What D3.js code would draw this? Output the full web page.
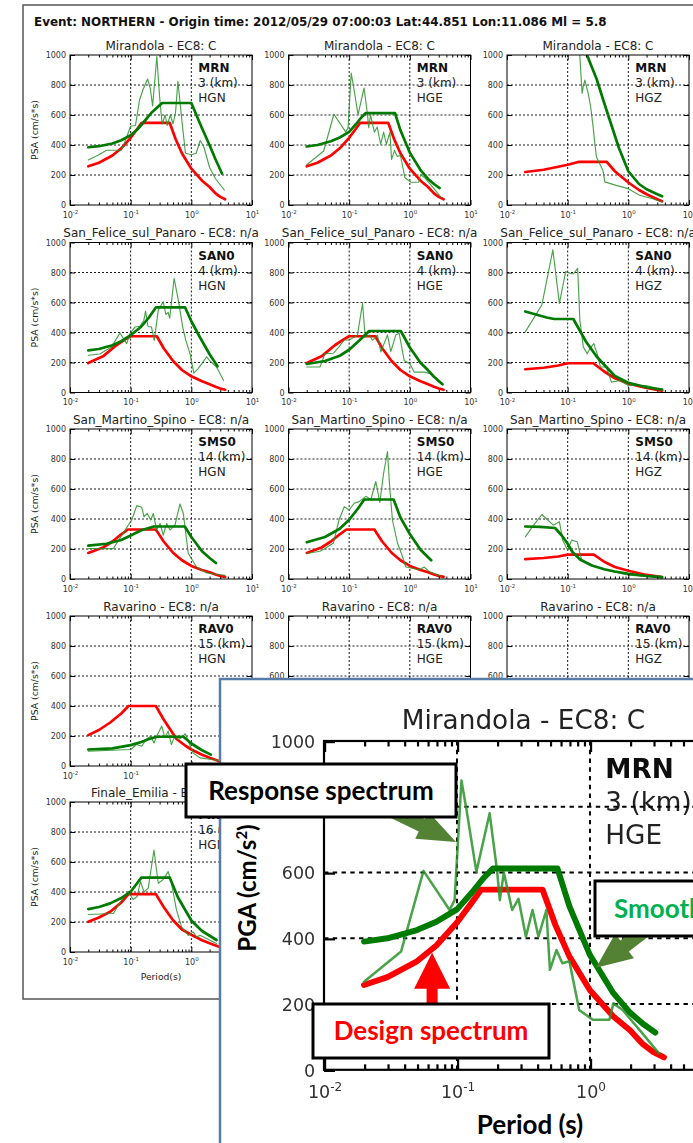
<!DOCTYPE html>
<html>
<head>
<meta charset="utf-8">
<script src="https://cdn.jsdelivr.net/npm/d3@7"></script>
<style>
body{margin:0;background:#fff;}
svg{display:block;font-family:"DejaVu Sans",sans-serif;}
</style>
</head>
<body>
<svg id="fig" width="693" height="1143"></svg>
<script>
'use strict';
// ---- labels ----
var eventTitle = "Event: NORTHERN - Origin time: 2012/05/29 07:00:03 Lat:44.851 Lon:11.086 Ml = 5.8";
var siteTitles = ["Mirandola - EC8: C", "San_Felice_sul_Panaro - EC8: n/a", "San_Martino_Spino - EC8: n/a",
                  "Ravarino - EC8: n/a", "Finale_Emilia - EC8: n/a"];
var stationCodes = ["MRN", "SAN0", "SMS0", "RAV0", "FIN0"];
var distances = ["3 (km)", "4 (km)", "14 (km)", "15 (km)", "16 (km)"];
var components = ["HGN", "HGE", "HGZ"];
var yTicks = [0, 200, 400, 600, 800, 1000];
var yGrid = [200, 400, 600, 800];
var xDecades = [0.01, 0.1, 1, 10];
var xGrid = [0.1, 1];

// ---- spectra: [period (s), PSA (cm/s*s)] ----
// Mirandola (MRN)
var mrnDesignH = [[0.02,258],[0.03,282],[0.05,330],[0.07,378],[0.1,448],[0.13,510],[0.152,548],[0.44,548],[0.55,440],[0.7,345],[1,242],[1.5,162],[2,120],[2.5,78],[3,54],[3.6,38]];
var mrnSmoothN = [[0.02,385],[0.03,392],[0.05,410],[0.07,432],[0.1,465],[0.13,505],[0.17,560],[0.22,615],[0.33,680],[1,680],[1.5,512],[2,398],[2.5,305],[3.2,210]];
var mrnRespN = [[0.02,300],[0.03,335],[0.04,365],[0.07,365],[0.08,420],[0.1,525],[0.12,530],[0.14,700],[0.16,770],[0.19,840],[0.21,780],[0.23,660],[0.27,990],[0.3,720],[0.33,540],[0.37,600],[0.4,530],[0.45,600],[0.5,540],[0.55,620],[0.6,825],[0.7,560],[0.8,345],[1,335],[1.2,345],[1.4,430],[1.6,390],[2,250],[2.5,175],[3.5,100]];
var mrnSmoothE = [[0.02,390],[0.03,400],[0.05,425],[0.07,450],[0.1,488],[0.13,540],[0.16,585],[0.186,612],[0.57,612],[0.7,498],[1,349],[1.5,233],[2,174],[2.5,140],[3.1,113]];
var mrnRespE = [[0.02,268],[0.038,360],[0.056,605],[0.088,486],[0.096,516],[0.108,880],[0.118,790],[0.14,602],[0.176,780],[0.2,607],[0.21,516],[0.225,600],[0.26,486],[0.29,520],[0.33,405],[0.37,486],[0.41,405],[0.47,486],[0.5,304],[0.56,364],[0.62,324],[0.7,330],[0.83,182],[1.05,152],[1.4,152],[1.5,202],[1.76,182],[2.6,101],[3.3,50]];
var mrnDesignZ = [[0.02,220],[0.04,235],[0.07,255],[0.1,268],[0.15,287],[0.44,287],[0.6,225],[1,150],[1.5,100],[2,72],[3,38],[3.6,25]];
var mrnSmoothZ = [[0.19,1040],[0.25,920],[0.3,840],[0.4,680],[0.5,560],[0.7,380],[1,225],[1.5,140],[2,105],[3,72],[3.6,58]];
var mrnRespZ = [[0.155,1060],[0.173,744],[0.183,800],[0.192,833],[0.218,744],[0.24,650],[0.263,521],[0.28,410],[0.298,320],[0.38,232],[0.41,154],[0.63,131],[1,109],[1.53,65],[2.5,42],[3.6,20]];
// San Felice sul Panaro (SAN0)
var sanDesignH = [[0.02,196],[0.035,241],[0.058,315],[0.08,352],[0.1,375],[0.27,375],[0.35,295],[0.5,210],[0.7,150],[1,108],[1.5,75],[2,55],[2.5,38],[3,27],[3.6,18]];
var sanSmoothN = [[0.02,281],[0.03,290],[0.05,315],[0.07,342],[0.1,382],[0.15,440],[0.2,500],[0.26,567],[0.79,567],[1,475],[1.4,365],[2,255],[2.7,175]];
var sanRespN = [[0.02,248],[0.031,257],[0.0486,304],[0.0665,397],[0.086,326],[0.0976,393],[0.118,437],[0.142,442],[0.165,482],[0.176,542],[0.193,440],[0.22,437],[0.245,348],[0.285,549],[0.345,605],[0.38,520],[0.415,534],[0.44,495],[0.52,761],[0.61,616],[0.72,437],[0.81,348],[0.95,259],[1.1,129],[1.29,158],[1.79,237],[2.03,210],[2.6,170],[3.4,80]];
var sanSmoothE = [[0.02,190],[0.04,210],[0.07,245],[0.1,285],[0.15,350],[0.214,410],[0.71,410],[1,300],[1.5,198],[2,148],[2.5,105],[3.45,55]];
var sanRespE = [[0.02,170],[0.033,170],[0.04,259],[0.055,262],[0.068,304],[0.083,350],[0.1,350],[0.137,382],[0.166,594],[0.184,370],[0.214,382],[0.243,348],[0.293,382],[0.333,270],[0.428,384],[0.486,272],[0.588,384],[0.667,395],[0.807,214],[1,192],[1.18,136],[1.72,136],[2.22,125],[3.45,54]];
var sanDesignZ = [[0.02,155],[0.04,165],[0.07,180],[0.1,195],[0.265,195],[0.4,140],[0.6,95],[1,60],[1.5,42],[2,30],[3,18],[3.6,13]];
var sanSmoothZ = [[0.02,540],[0.03,520],[0.045,500],[0.06,490],[0.124,490],[0.15,430],[0.2,340],[0.3,240],[0.4,185],[0.6,110],[1,65],[2,35],[3.6,20]];
var sanRespZ = [[0.02,404],[0.0375,583],[0.057,951],[0.073,594],[0.0927,806],[0.109,795],[0.124,790],[0.146,828],[0.159,482],[0.181,304],[0.21,259],[0.232,292],[0.27,326],[0.306,259],[0.347,170],[0.435,170],[0.526,69],[0.72,80],[1,47],[1.97,47],[3.6,18]];
// San Martino Spino (SMS0)
var smsDesignH = [[0.02,174],[0.035,210],[0.05,250],[0.07,298],[0.09,330],[0.26,330],[0.35,250],[0.5,175],[0.7,125],[1,87],[1.5,60],[2,45],[2.5,30],[3,21],[3.6,14]];
var smsSmoothN = [[0.02,222],[0.04,235],[0.07,260],[0.1,290],[0.15,325],[0.24,350],[0.78,350],[1,280],[1.5,185],[2,140],[2.55,107]];
var smsRespN = [[0.02,203],[0.052,203],[0.081,326],[0.104,393],[0.126,489],[0.152,478],[0.166,415],[0.188,437],[0.214,393],[0.236,437],[0.268,326],[0.305,370],[0.345,292],[0.392,370],[0.445,326],[0.538,360],[0.65,500],[0.738,437],[0.89,170],[1.22,80],[1.79,40],[2.97,28],[3.59,25]];
var smsSmoothE = [[0.02,245],[0.04,280],[0.07,335],[0.1,395],[0.14,470],[0.177,530],[0.54,530],[0.7,410],[1,300],[1.5,195],[2.25,125]];
var smsRespE = [[0.02,170],[0.033,185],[0.04,203],[0.055,240],[0.068,393],[0.083,482],[0.1,460],[0.121,505],[0.146,516],[0.188,551],[0.228,530],[0.275,650],[0.32,510],[0.368,700],[0.428,850],[0.468,600],[0.518,390],[0.626,240],[0.757,150],[0.859,80],[1.43,62],[1.72,80],[2.08,50],[3.24,18]];
var smsDesignZ = [[0.02,133],[0.04,140],[0.07,150],[0.1,162],[0.27,162],[0.4,115],[0.6,80],[1,55],[2,27],[3.6,12]];
var smsSmoothZ = [[0.02,350],[0.035,348],[0.062,340],[0.08,290],[0.1,235],[0.12,180],[0.16,130],[0.25,90],[0.4,65],[0.6,50],[1,35],[2,20],[3.6,12]];
var smsRespZ = [[0.02,281],[0.0275,359],[0.0375,430],[0.058,359],[0.073,382],[0.083,259],[0.1,192],[0.116,259],[0.144,248],[0.17,125],[0.264,92],[0.435,58],[1,25],[3.6,9]];
// Ravarino (RAV0), Finale Emilia (FIN0)
var ravDesignH = [[0.02,206],[0.03,240],[0.046,290],[0.07,350],[0.092,400],[0.26,400],[0.35,310],[0.57,180],[0.8,135],[1,110],[1.5,75],[2,55],[3,30],[3.6,20]];
var ravSmoothN = [[0.02,110],[0.05,118],[0.1,139],[0.15,160],[0.2,180],[0.27,195],[0.74,195],[1,150],[1.5,105],[2.1,76]];
var ravRespN = [[0.02,98],[0.1,110],[0.125,143],[0.152,132],[0.18,177],[0.213,199],[0.242,154],[0.275,206],[0.325,266],[0.367,188],[0.415,233],[0.47,143],[0.535,199],[0.61,177],[0.69,188],[0.79,215],[0.89,166],[1.07,87],[1.39,54],[2.3,42],[3.6,31]];
var finDesignH = [[0.02,201],[0.03,230],[0.046,268],[0.07,330],[0.092,386],[0.26,386],[0.35,300],[0.5,212],[0.7,150],[1,115],[1.5,78],[2,58],[3,32],[3.6,22]];
var finSmoothN = [[0.02,286],[0.03,300],[0.046,324],[0.07,360],[0.1,402],[0.15,496],[0.44,496],[0.6,365],[1,210],[1.5,140],[2.6,80]];
var finRespN = [[0.02,250],[0.052,257],[0.0665,330],[0.0915,402],[0.11,350],[0.128,370],[0.145,470],[0.166,400],[0.195,426],[0.242,680],[0.285,458],[0.345,484],[0.415,536],[0.47,460],[0.57,279],[0.69,167],[0.89,110],[1.07,134],[1.22,100],[1.39,112],[2.03,78],[2.6,56]];

var panelData = [
    [{d: mrnDesignH, s: mrnSmoothN, r: mrnRespN}, {d: mrnDesignH, s: mrnSmoothE, r: mrnRespE}, {d: mrnDesignZ, s: mrnSmoothZ, r: mrnRespZ}],
    [{d: sanDesignH, s: sanSmoothN, r: sanRespN}, {d: sanDesignH, s: sanSmoothE, r: sanRespE}, {d: sanDesignZ, s: sanSmoothZ, r: sanRespZ}],
    [{d: smsDesignH, s: smsSmoothN, r: smsRespN}, {d: smsDesignH, s: smsSmoothE, r: smsRespE}, {d: smsDesignZ, s: smsSmoothZ, r: smsRespZ}],
    [{d: ravDesignH, s: ravSmoothN, r: ravRespN}, null, null],
    [{d: finDesignH, s: finSmoothN, r: finRespN}, null, null]
];

// ---- layout ----
var fig = d3.select("#fig");
var W = 182, H = 150;
var colLeft = [70, 288.5, 507];
var rowTop = [55, 242.5, 429, 616, 802];
var clipId = 0;

fig.append("rect").attr("width", 693).attr("height", 1143).attr("fill", "#fff");
fig.append("rect").attr("x", 23).attr("y", 5).attr("width", 720).attr("height", 994)
    .attr("fill", "none").attr("stroke", "#555").attr("stroke-width", 1.5);

var head = fig.append("text").attr("x", 34).attr("y", 26).attr("font-weight", "bold")
    .attr("font-size", 11).attr("fill", "#111").text(eventTitle);
head.attr("font-size", 11 * 573 / head.node().getComputedTextLength());

function supLabels(axisG) {
    axisG.selectAll(".tick text").each(function(d) {
        var t = d3.select(this).text(null);
        t.append("tspan").text("10");
        t.append("tspan").attr("dy", -3.2).attr("font-size", 5.5).text(Math.round(Math.log10(d)));
    });
}

function drawPanel(parent, tx, ty, k, row, col, showYLabel) {
    var g = parent.append("g").attr("transform", "translate(" + tx + "," + ty + ") scale(" + k + ")");
    var x = d3.scaleLog().domain([0.01, 10]).range([0, W]);
    var y = d3.scaleLinear().domain([0, 1000]).range([H, 0]);
    var minors = [];
    [0.01, 0.1, 1].forEach(function(dec) { for (var m = 2; m < 10; m++) minors.push(dec * m); });

    g.append("text").attr("x", W / 2).attr("y", -5.5).attr("text-anchor", "middle")
        .attr("font-size", 12).attr("fill", "#222").text(siteTitles[row]);

    var id = "clip" + (clipId++);
    g.append("clipPath").attr("id", id).append("rect").attr("width", W).attr("height", H);

    // station text
    var tx0 = x(1) + 7;
    g.append("text").attr("x", tx0).attr("y", 17).attr("font-size", 12).attr("font-weight", "bold")
        .attr("fill", "#111").text(stationCodes[row]);
    g.append("text").attr("x", tx0).attr("y", 32).attr("font-size", 12).attr("fill", "#222").text(distances[row]);
    g.append("text").attr("x", tx0).attr("y", 47).attr("font-size", 12).attr("fill", "#222").text(components[col]);

    // grid
    g.selectAll(".hg").data(yGrid).enter().append("line")
        .attr("x1", 0).attr("x2", W).attr("y1", y).attr("y2", y)
        .attr("stroke", "#000").attr("stroke-width", 0.9).attr("stroke-dasharray", "2,2");
    g.selectAll(".vg").data(xGrid).enter().append("line")
        .attr("x1", x).attr("x2", x).attr("y1", 0).attr("y2", H)
        .attr("stroke", "#000").attr("stroke-width", 0.9).attr("stroke-dasharray", "2,2");

    // curves
    var p = panelData[row][col];
    if (p) {
        var line = d3.line().x(function(d) { return x(d[0]); }).y(function(d) { return y(d[1]); });
        var cg = g.append("g").attr("clip-path", "url(#" + id + ")").attr("fill", "none")
            .attr("stroke-linejoin", "round").attr("stroke-linecap", "round");
        cg.append("path").attr("d", line(p.d)).attr("stroke", "#ff0000").attr("stroke-width", 2.7);
        cg.append("path").attr("d", line(p.r)).attr("stroke", "#2a922a").attr("stroke-width", 1.15)
            .attr("stroke-opacity", 0.85);
        cg.append("path").attr("d", line(p.s)).attr("stroke", "#007a00").attr("stroke-width", 2.7);
    }

    // axes (inward ticks)
    function clean(a) { a.select(".domain").remove(); a.attr("font-family", null).attr("color", "#000"); }
    var ya = g.append("g")
        .call(d3.axisLeft(y).tickValues(yTicks).tickSize(-5).tickPadding(4).tickFormat(d3.format("d")))
        .call(clean);
    ya.attr("font-size", 8).selectAll("text").attr("fill", "#333");
    g.append("g").attr("transform", "translate(" + W + ",0)")
        .call(d3.axisRight(y).tickValues(yTicks).tickSize(-5).tickFormat("")).call(clean);
    var xa = g.append("g").attr("transform", "translate(0," + H + ")")
        .call(d3.axisBottom(x).tickValues(xDecades).tickSize(-5).tickPadding(7)).call(clean);
    xa.attr("font-size", 8).selectAll("text").attr("fill", "#333");
    supLabels(xa);
    g.append("g").attr("transform", "translate(0," + H + ")")
        .call(d3.axisBottom(x).tickValues(minors).tickSize(-2.5).tickFormat("")).call(clean);
    g.append("g").call(d3.axisTop(x).tickValues(xDecades).tickSize(-5).tickFormat("")).call(clean);
    g.append("g").call(d3.axisTop(x).tickValues(minors).tickSize(-2.5).tickFormat("")).call(clean);

    g.append("rect").attr("width", W).attr("height", H).attr("fill", "none")
        .attr("stroke", "#000").attr("stroke-width", 1);

    if (showYLabel) {
        g.append("text").attr("transform", "translate(-32," + (H / 2) + ") rotate(-90)")
            .attr("text-anchor", "middle").attr("font-size", 9.3).attr("fill", "#222").text("PSA (cm/s*s)");
    }
    return {g: g, x: x, y: y};
}

for (var r = 0; r < 5; r++) {
    for (var c = 0; c < 3; c++) {
        drawPanel(fig, colLeft[c], rowTop[r], 1, r, c, c === 0);
    }
}
fig.append("text").attr("x", colLeft[0] + W / 2).attr("y", rowTop[4] + H + 28).attr("text-anchor", "middle")
    .attr("font-size", 9.2).attr("fill", "#222").text("Period(s)");

// ---- zoomed inset ----
var k = 2.192;
var insetX = 324, insetY = 741;
fig.append("rect").attr("x", 220).attr("y", 679).attr("width", 500).attr("height", 500)
    .attr("fill", "#fff").attr("stroke", "#587ca8").attr("stroke-width", 2.5);
var defs = fig.append("defs");
defs.append("filter").attr("id", "soft").append("feGaussianBlur").attr("stdDeviation", 0.3);
var inset = drawPanel(fig, insetX, insetY, k, 0, 1, false);
inset.g.attr("filter", "url(#soft)");
function ix(t) { return insetX + k * inset.x(t); }
function iy(v) { return insetY + k * inset.y(v); }

var callFont = "Lato, 'Open Sans', sans-serif";
var ylab = fig.append("text").attr("transform", "translate(256,888) rotate(-90)").attr("text-anchor", "middle")
    .attr("font-family", callFont).attr("font-weight", "bold").attr("font-size", 24).attr("fill", "#000");
ylab.append("tspan").text("PGA (cm/s");
ylab.append("tspan").attr("dy", -9).attr("font-size", 15).text("2");
ylab.append("tspan").attr("dy", 9).text(")");
fig.append("text").attr("x", 530).attr("y", 1134).attr("text-anchor", "middle").attr("font-family", callFont)
    .attr("font-weight", "bold").attr("font-size", 26).attr("fill", "#000").text("Period (s)");

function blockArrow(p0, p1, shaft, headW, headL, color) {
    var dx = p1[0] - p0[0], dy = p1[1] - p0[1], L = Math.hypot(dx, dy);
    var ux = dx / L, uy = dy / L, nx = -uy, ny = ux;
    var bx = p1[0] - ux * headL, by = p1[1] - uy * headL;
    var pts = [
        [p0[0] + nx * shaft / 2, p0[1] + ny * shaft / 2],
        [bx + nx * shaft / 2, by + ny * shaft / 2],
        [bx + nx * headW / 2, by + ny * headW / 2],
        p1,
        [bx - nx * headW / 2, by - ny * headW / 2],
        [bx - nx * shaft / 2, by - ny * shaft / 2],
        [p0[0] - nx * shaft / 2, p0[1] - ny * shaft / 2]];
    fig.append("polygon").attr("points", pts.map(function(q) { return q.join(","); }).join(" ")).attr("fill", color);
}

function callout(x, y, w, h, label, color, anchor, tx, ty) {
    fig.append("rect").attr("x", x).attr("y", y).attr("width", w).attr("height", h)
        .attr("fill", "#fff").attr("stroke", "#000").attr("stroke-width", 3);
    fig.append("text").attr("x", tx).attr("y", ty).attr("text-anchor", anchor).attr("font-family", callFont)
        .attr("font-weight", "bold").attr("font-size", 26).attr("fill", color).text(label);
}

// arrows point at the curves on the inset scales
blockArrow([380, 805], [ix(0.0983), iy(693)], 14, 30, 38, "#548235");
blockArrow([ix(0.065), 1010], [ix(0.065), iy(356)], 11, 36, 36, "#ff0000");
blockArrow([652, 925], [ix(1.11), iy(310)], 14, 31, 36, "#548235");

callout(186, 764, 270, 53, "Response spectrum", "#000", "middle", 321, 800);
callout(313, 1004, 236, 54, "Design spectrum", "#ff0000", "middle", 431, 1040);
callout(595, 881, 220, 55, "Smoothed spectrum", "#00b050", "start", 614, 918);
</script>
</body>
</html>
